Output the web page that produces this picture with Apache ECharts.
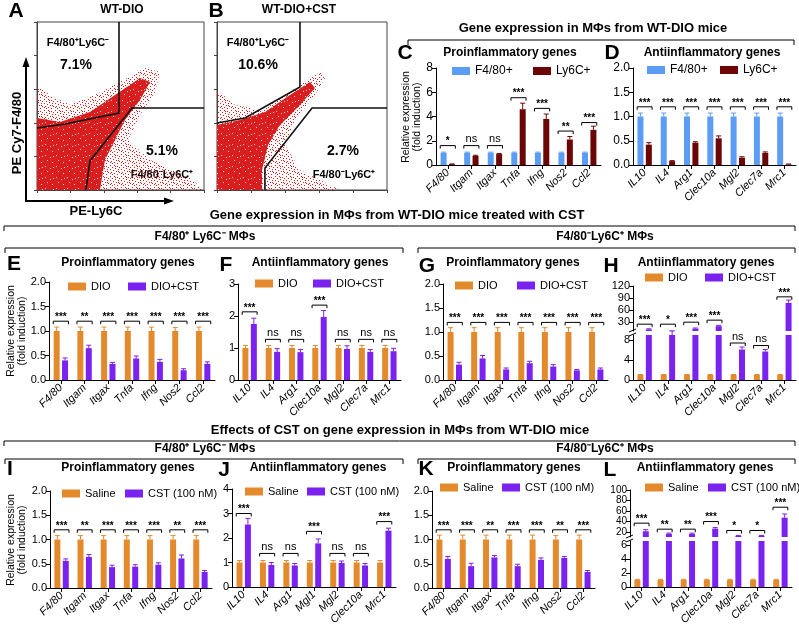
<!DOCTYPE html>
<html><head><meta charset="utf-8">
<script src="https://cdn.jsdelivr.net/npm/echarts/dist/echarts.min.js"></script>
<style>html,body{margin:0;padding:0;background:#fff}#c{width:799px;height:626px}</style>
</head><body><div id="c"></div><script>
// ---------------- DATA ----------------
const proGenes = ['F4/80','Itgam','Itgax','Tnfa','Ifng','Nos2','Ccl2'];
const antiGenes = ['IL10','IL4','Arg1','Clec10a','Mgl2','Clec7a','Mrc1'];
const antiGenesJ = ['IL10','IL4','Arg1','Mgl1','Mgl2','Clec10a','Mrc1'];

// flow cytometry (A, B): outlines of the dot cloud and gates, in axis units (0-100)
const aCloudHalo = [[0,0],[0,62.5],[7.8,56.5],[19.8,50.6],[34.7,56.5],[49.7,64.3],[64.7,72.6],[73.7,70.2],[70.7,58.3],[61.7,44.6],[54.5,29.8],[67.7,17.9],[91.6,7.1],[100,0]];
const aCloudCore = [[0,0],[0,42.9],[13.8,40.5],[31.7,46.4],[46.7,56.5],[61.7,66.7],[67.7,64.3],[61.7,53.6],[52.7,41.7],[46.7,29.8],[40.7,17.9],[37.7,0]];
const aGateUpper = [[0,36.9],[16.8,39.3],[49.1,45.8],[49.1,100]];
const aGateLower = [[100,48.8],[56.9,48.8],[31.7,17.3],[29.3,0]];
const bCloudHalo = [[0,0],[0,59.5],[10.6,50.6],[25.3,47.6],[40,56.5],[51.8,64.3],[60.6,70.2],[63.5,66.7],[57.6,56.5],[45.9,41.7],[40,26.8],[48.8,11.9],[66.5,3],[72.4,0]];
const bCloudCore = [[0,0],[0,38.7],[13.5,41.7],[28.2,46.4],[42.9,56.5],[54.7,64.3],[57.6,60.7],[48.8,50.6],[37.1,38.7],[30,26.8],[26.5,11.9],[26.5,0]];
const bGateUpper = [[0,39.9],[16.5,42.9],[48.8,61.3],[48.8,100]];
const bGateLower = [[100,48.8],[55.9,48.8],[28.2,13.1],[28.2,0]];

// C
const cF480 = [1,1,1,1,1,1,1];
const cF480Err = [0.06,0.06,0.06,0.06,0.06,0.06,0.06];
const cLy6C = [0.07,0.75,0.9,4.6,3.8,2.1,2.9];
const cLy6CErr = [0.02,0.05,0.05,0.5,0.4,0.25,0.3];
const cSig = ['*','ns','ns','***','***','**','***'];
const cSigY = [1.6,1.6,1.6,5.55,4.67,2.8,3.5];
// D
const dF480 = [1,1,1,1,1,1,1];
const dF480Err = [0.07,0.07,0.07,0.07,0.07,0.07,0.07];
const dLy6C = [0.42,0.08,0.46,0.55,0.15,0.25,0.01];
const dLy6CErr = [0.04,0.01,0.02,0.05,0.02,0.02,0.01];
const dSig = ['***','***','***','***','***','***','***'];
const dSigY = [1.2,1.2,1.2,1.2,1.2,1.2,1.2];
// E
const eDIO = [1,1,1,1,1,1,1];
const eDIOErr = [0.08,0.08,0.08,0.08,0.08,0.07,0.08];
const eCST = [0.40,0.65,0.33,0.44,0.37,0.20,0.33];
const eCSTErr = [0.05,0.06,0.03,0.05,0.05,0.03,0.04];
const eSig = ['***','**','***','***','***','***','***'];
const eSigY = [1.2,1.2,1.2,1.2,1.2,1.2,1.2];
// F
const fDIO = [1,1,1,1,1,1,1];
const fDIOErr = [0.08,0.08,0.08,0.08,0.08,0.08,0.08];
const fCST = [1.75,0.88,0.87,1.97,0.97,0.88,0.90];
const fCSTErr = [0.18,0.1,0.08,0.2,0.1,0.07,0.09];
const fSig = ['***','ns','ns','***','ns','ns','ns'];
const fSigY = [2.13,1.27,1.27,2.34,1.27,1.27,1.27];
// G
const gDIO = [1,1,1,1,1,1,1];
const gDIOErr = [0.09,0.09,0.09,0.09,0.09,0.09,0.09];
const gCST = [0.32,0.45,0.22,0.35,0.28,0.20,0.22];
const gCSTErr = [0.05,0.06,0.03,0.04,0.04,0.02,0.03];
const gSig = ['***','***','***','***','***','***','***'];
const gSigY = [1.2,1.2,1.2,1.2,1.2,1.2,1.2];
// H
const hDIO = [1,1,1,1,1,1,1];
const hDIOErr = [0.1,0.1,0.1,0.1,0.1,0.1,0.1];
const hCST = [12,9,14,20,6.1,5.7,78];
const hCSTErr = [1.5,0.8,1.5,2,0.5,0.4,7];
const hSig = ['***','*','***','***','ns','ns','***'];
const hSigY = [25,25,30,35,7.4,6.9,93];
// I
const iSaline = [1,1,1,1,1,1,1];
const iSalineErr = [0.08,0.08,0.08,0.08,0.08,0.08,0.08];
const iCST = [0.56,0.64,0.43,0.44,0.48,0.61,0.33];
const iCSTErr = [0.04,0.05,0.04,0.04,0.04,0.07,0.03];
const iSig = ['***','**','***','***','***','**','***'];
const iSigY = [1.2,1.2,1.2,1.2,1.2,1.2,1.2];
// J
const jSaline = [1,1,1,1,1,1,1];
const jSalineErr = [0.08,0.08,0.08,0.08,0.08,0.08,0.08];
const jCST = [2.55,0.9,0.88,1.78,0.98,0.88,2.3];
const jCSTErr = [0.25,0.1,0.08,0.18,0.08,0.08,0.1];
const jSig = ['***','ns','ns','***','ns','ns','***'];
const jSigY = [3.0,1.37,1.37,2.27,1.37,1.37,2.67];
// K
const kSaline = [1,1,1,1,1,1,1];
const kSalineErr = [0.09,0.09,0.09,0.09,0.09,0.08,0.09];
const kCST = [0.60,0.45,0.63,0.45,0.58,0.62,0.33];
const kCSTErr = [0.05,0.06,0.04,0.04,0.04,0.03,0.03];
const kSig = ['***','***','**','***','***','**','***'];
const kSigY = [1.2,1.2,1.2,1.2,1.2,1.2,1.2];
// L
const lSaline = [1,1,1,1,1,1,1];
const lSalineErr = [0.1,0.1,0.1,0.1,0.1,0.1,0.1];
const lCST = [21,16,16,26,12,12,47];
const lCSTErr = [3,1.5,1.5,2,1,1,7];
const lSig = ['***','**','**','***','*','*','***'];
const lSigY = [36.5,25,25,39.6,22.5,22.5,67];

// ---------------- STYLE ----------------
const FONT = '"Liberation Sans", Arial, Helvetica, sans-serif';
const BLUE = '#5b9cf4', DRED = '#6c0606', ORANGE = '#e38a2d', PURPLE = '#7a22f0';
const BW = 6, OFF = 4.2;

const grids = [], xAxes = [], yAxes = [], series = [], legends = [], graphics = [];

function addGrid(g){ grids.push(Object.assign({containLabel:false, outerBoundsMode:'none'}, g)); return grids.length-1; }
function catAxis(gi, cats, show){
  xAxes.push({type:'category', gridIndex:gi, data:cats, boundaryGap:true, show:show,
    axisLine:{show:true, lineStyle:{color:'#000', width:1}},
    axisTick:{show:true, alignWithLabel:true, length:4, lineStyle:{color:'#000'}},
    axisLabel:{show:true, rotate:45, interval:0, fontSize:11, fontStyle:'italic', color:'#000', fontFamily:FONT, margin:6},
    splitLine:{show:false}});
  return xAxes.length-1;
}
function valAxis(gi, o){
  const ax = {type:'value', gridIndex:gi, min:o.min, max:o.max,
    axisLine:{show:true, lineStyle:{color:'#000', width:1}},
    axisTick:{show:true, length:4, lineStyle:{color:'#000'}},
    axisLabel:{fontSize:o.fs||11, lineHeight:o.lh||undefined, color:'#000', fontFamily:FONT, margin:3,
      showMinLabel:true, showMaxLabel:true, hideOverlap:false},
    splitLine:{show:false}};
  if (o.interval) ax.interval = o.interval;
  if (o.fmt) ax.axisLabel.formatter = o.fmt;
  if (o.custom){ ax.axisLabel.customValues = o.custom; ax.axisTick.customValues = o.custom; }
  yAxes.push(ax); return yAxes.length-1;
}
function bars(xi, yi, name, vals, color){
  series.push({type:'bar', name, xAxisIndex:xi, yAxisIndex:yi, data:vals, barWidth:BW, barGap:'40%',
    itemStyle:{color}, silent:true, clip:true});
}
function errs(xi, yi, vals, errArr, color, off, keep){
  const data = vals.map((v,i)=>[i, v, errArr[i]]).filter(d => keep ? keep(d[1]) : true);
  series.push({type:'custom', xAxisIndex:xi, yAxisIndex:yi, data, silent:true, z:3, encode:{x:0, y:1},
    renderItem:(p, api)=>{
      const i = api.value(0), v = api.value(1), e = api.value(2);
      const a = api.coord([i, v]), b = api.coord([i, v+e]);
      const x = a[0] + off;
      return {type:'group', children:[
        {type:'line', shape:{x1:x, y1:a[1], x2:x, y2:b[1]}, style:{stroke:color, lineWidth:1}},
        {type:'line', shape:{x1:x-2.5, y1:b[1], x2:x+2.5, y2:b[1]}, style:{stroke:color, lineWidth:1}}
      ]};
    }});
}
function brackets(xi, yi, ys, labels, keep){
  const data = ys.map((y,i)=>[i, y]).filter(d => keep ? keep(d[1]) : true);
  series.push({type:'custom', xAxisIndex:xi, yAxisIndex:yi, data, silent:true, z:4, encode:{x:0, y:1},
    renderItem:(p, api)=>{
      const i = api.value(0);
      const pt = api.coord([i, api.value(1)]);
      const hw = api.size([1,0])[0]*0.32;
      const t = labels[i];
      const ns = t === 'ns';
      return {type:'group', children:[
        {type:'polyline', shape:{points:[[pt[0]-hw, pt[1]+3],[pt[0]-hw, pt[1]],[pt[0]+hw, pt[1]],[pt[0]+hw, pt[1]+3]]},
          style:{stroke:'#000', lineWidth:1, fill:null}},
        {type:'text', x:pt[0], y:ns ? pt[1]-1 : pt[1]+1,
          style:{text:t, font:(ns ? '11px ' : 'bold 10px ') + FONT, fill:'#000',
            align:'center', verticalAlign:'bottom', textAlign:'center', textVerticalAlign:'bottom'}}
      ]};
    }});
}
function leg(name, left, cy, fs){
  legends.push({data:[name], left, top:cy-7, padding:0, itemWidth:18, itemHeight:8, itemGap:0,
    selectedMode:false, icon:'rect',
    textStyle:{fontSize:fs||11, color:'#000', fontFamily:FONT}});
}
function txt(x, y, t, font, extra){
  graphics.push(Object.assign({type:'text', x, y, silent:true,
    style:{text:t, font:font, fill:'#000', align:'center', verticalAlign:'middle', textAlign:'center', textVerticalAlign:'middle'}}, extra||{}));
}
function hline(x1, x2, y){
  graphics.push({type:'polyline', silent:true, shape:{points:[[x1,y+5],[x1,y],[x2,y],[x2,y+5]]},
    style:{stroke:'#000', lineWidth:1, fill:null}});
}
function line(x1,y1,x2,y2,w){
  graphics.push({type:'line', silent:true, shape:{x1,y1,x2,y2}, style:{stroke:'#000', lineWidth:w||1}});
}

function panel(g, cats, yo, s1, s2, sigY, sig){
  const gi = addGrid(g);
  const xi = catAxis(gi, cats, true);
  const yi = valAxis(gi, yo);
  bars(xi, yi, s1.name, s1.v, s1.c);
  bars(xi, yi, s2.name, s2.v, s2.c);
  errs(xi, yi, s1.v, s1.e, s1.c, -OFF);
  errs(xi, yi, s2.v, s2.e, s2.c, OFF);
  brackets(xi, yi, sigY, sig);
}
function brokenPanel(gUp, gLo, cats, yUp, yLo, s1, s2, sigY, sig){
  const giU = addGrid(gUp), giL = addGrid(gLo);
  const xU = catAxis(giU, cats, false), xL = catAxis(giL, cats, true);
  const yU = valAxis(giU, yUp), yL = valAxis(giL, yLo);
  const lim = yLo.max;
  [[xU,yU],[xL,yL]].forEach(([xi,yi])=>{ bars(xi, yi, s1.name, s1.v, s1.c); bars(xi, yi, s2.name, s2.v, s2.c); });
  errs(xL, yL, s1.v, s1.e, s1.c, -OFF, v=>v<=lim);
  errs(xU, yU, s2.v, s2.e, s2.c, OFF, v=>v>lim);
  errs(xL, yL, s2.v, s2.e, s2.c, OFF, v=>v<=lim);
  brackets(xU, yU, sigY, sig, v=>v>lim);
  brackets(xL, yL, sigY, sig, v=>v<=lim);
  const x = gUp.left, y1 = gUp.top + gUp.height, y2 = gLo.top;
  line(x-4, y1+1, x+3, y1-2, 1);
  line(x-4, y2+1, x+3, y2-2, 1);
}

function makePattern(bg, fg, pts, size){
  const c = document.createElement('canvas'); c.width = c.height = size;
  const x = c.getContext('2d');
  if (bg){ x.fillStyle = bg; x.fillRect(0,0,size,size); }
  x.fillStyle = fg; pts.forEach(p=>x.fillRect(p[0], p[1], 1, 1));
  return c;
}
const haloPat = makePattern(null, '#d81e1e',
  [[0,0],[4,0],[7,1],[2,2],[9,2],[5,3],[0,4],[8,4],[3,5],[6,6],[1,7],[9,7],[4,8],[7,9],[2,9],[5,1],[8,6],[0,8]], 11);
const corePat = makePattern('#d81e1e', '#f7d6d6', [[1,1],[6,3],[3,6],[8,8],[9,2]], 11);

function flowPanel(g, halo, core, gU, gL){
  const gi = addGrid(Object.assign({show:true, borderColor:'#444', borderWidth:1, backgroundColor:'#fff'}, g));
  xAxes.push({type:'value', gridIndex:gi, min:0, max:100, interval:20, axisLabel:{show:false},
    axisTick:{show:true, length:3, lineStyle:{color:'#444'}}, axisLine:{show:true, lineStyle:{color:'#444'}}, splitLine:{show:false}});
  yAxes.push({type:'value', gridIndex:gi, min:0, max:100, interval:20, axisLabel:{show:false},
    axisTick:{show:true, length:3, lineStyle:{color:'#444'}}, axisLine:{show:true, lineStyle:{color:'#444'}}, splitLine:{show:false}});
  const xi = xAxes.length-1, yi = yAxes.length-1;
  const poly = (pts, style, z) => series.push({type:'custom', xAxisIndex:xi, yAxisIndex:yi, data:[[0,0]], silent:true, z,
    renderItem:(p, api)=>({type:'polygon', shape:{points:pts.map(q=>api.coord(q))}, style})});
  const pl = (pts, z) => series.push({type:'custom', xAxisIndex:xi, yAxisIndex:yi, data:[[0,0]], silent:true, z,
    renderItem:(p, api)=>({type:'polyline', shape:{points:pts.map(q=>api.coord(q))}, style:{stroke:'#111', lineWidth:1.6, fill:null}})});
  poly(halo, {fill:{image:haloPat, repeat:'repeat'}}, 1);
  poly(core, {fill:{image:corePat, repeat:'repeat'}}, 2);
  pl(gU, 5); pl(gL, 5);
}

flowPanel({left:37, top:22, width:167, height:168}, aCloudHalo, aCloudCore, aGateUpper, aGateLower);
flowPanel({left:217, top:22, width:170, height:168}, bCloudHalo, bCloudCore, bGateUpper, bGateLower);

panel({left:436, top:68, width:165, height:97}, proGenes, {min:0, max:8, interval:2, fs:12},
  {name:'F4/80+', v:cF480, e:cF480Err, c:BLUE}, {name:'Ly6C+', v:cLy6C, e:cLy6CErr, c:DRED}, cSigY, cSig);
panel({left:633, top:68, width:163, height:97}, antiGenes, {min:0, max:2, interval:0.5, fs:12, fmt:v=>v.toFixed(1)},
  {name:'F4/80+', v:dF480, e:dF480Err, c:BLUE}, {name:'Ly6C+', v:dLy6C, e:dLy6CErr, c:DRED}, dSigY, dSig);
panel({left:49, top:282, width:166, height:98}, proGenes, {min:0, max:2, interval:0.5, fmt:v=>v.toFixed(1)},
  {name:'DIO', v:eDIO, e:eDIOErr, c:ORANGE}, {name:'DIO+CST', v:eCST, e:eCSTErr, c:PURPLE}, eSigY, eSig);
panel({left:238, top:284, width:163, height:96}, antiGenes, {min:0, max:3, interval:1},
  {name:'DIO', v:fDIO, e:fDIOErr, c:ORANGE}, {name:'DIO+CST', v:fCST, e:fCSTErr, c:PURPLE}, fSigY, fSig);
panel({left:443, top:284, width:165, height:96}, proGenes, {min:0, max:2, interval:0.5, fmt:v=>v.toFixed(1)},
  {name:'DIO', v:gDIO, e:gDIOErr, c:ORANGE}, {name:'DIO+CST', v:gCST, e:gCSTErr, c:PURPLE}, gSigY, gSig);
brokenPanel({left:633, top:286, width:163, height:45}, {left:633, top:335, width:163, height:45}, antiGenes,
  {min:8, max:120, custom:[30,60,90,120], fs:11, lh:10}, {min:0, max:9, custom:[0,2,4,6,8], fs:11, lh:9},
  {name:'DIO', v:hDIO, e:hDIOErr, c:ORANGE}, {name:'DIO+CST', v:hCST, e:hCSTErr, c:PURPLE}, hSigY, hSig);
panel({left:50, top:491, width:162, height:97}, proGenes, {min:0, max:2, interval:0.5, fmt:v=>v.toFixed(1)},
  {name:'Saline', v:iSaline, e:iSalineErr, c:ORANGE}, {name:'CST (100 nM)', v:iCST, e:iCSTErr, c:PURPLE}, iSigY, iSig);
panel({left:232, top:489, width:164, height:98}, antiGenesJ, {min:0, max:4, interval:1},
  {name:'Saline', v:jSaline, e:jSalineErr, c:ORANGE}, {name:'CST (100 nM)', v:jCST, e:jCSTErr, c:PURPLE}, jSigY, jSig);
panel({left:432, top:491, width:163, height:97}, proGenes, {min:0, max:2, interval:0.5, fmt:v=>v.toFixed(1)},
  {name:'Saline', v:kSaline, e:kSalineErr, c:ORANGE}, {name:'CST (100 nM)', v:kCST, e:kCSTErr, c:PURPLE}, kSigY, kSig);
brokenPanel({left:630, top:490, width:162, height:47}, {left:630, top:541, width:162, height:46}, antiGenes,
  {min:10, max:100, custom:[20,40,60,80,100], fs:10, lh:8}, {min:0, max:6.6, custom:[0,2,4,6], fs:11},
  {name:'Saline', v:lSaline, e:lSalineErr, c:ORANGE}, {name:'CST (100 nM)', v:lCST, e:lCSTErr, c:PURPLE}, lSigY, lSig);

leg('F4/80+', 452, 72, 12); leg('Ly6C+', 533, 72, 12);
leg('F4/80+', 647, 71, 12); leg('Ly6C+', 720, 71, 12);
leg('DIO', 68, 288); leg('DIO+CST', 128, 288);
leg('DIO', 255, 285); leg('DIO+CST', 313, 285);
leg('DIO', 455, 287); leg('DIO+CST', 517, 287);
leg('DIO', 645, 279); leg('DIO+CST', 705, 279);
leg('Saline', 62, 495); leg('CST (100 nM)', 125, 495);
leg('Saline', 245, 493); leg('CST (100 nM)', 307, 493);
leg('Saline', 440, 489); leg('CST (100 nM)', 502, 489);
leg('Saline', 645, 489); leg('CST (100 nM)', 708, 489);

const B13 = 'bold 13px ' + FONT, B12 = 'bold 12px ' + FONT, B11 = 'bold 11px ' + FONT, BIG = 'bold 21px ' + FONT;
[['A',16,11],['B',216,11],['C',405,53],['D',612,53],['E',14,264],['F',226,265],['G',427,266],['H',611,266],
 ['I',10,469],['J',224,470],['K',426,469],['L',610,470]].forEach(d=>txt(d[1], d[2], d[0], BIG));
txt(122, 10, 'WT-DIO', B12); txt(299, 10, 'WT-DIO+CST', B12);
txt(78, 43, 'F4/80\u207ALy6C\u207B', B11); txt(76, 65, '7.1%', 'bold 14px ' + FONT);
txt(162, 151, '5.1%', 'bold 14px ' + FONT); txt(162, 175, 'F4/80\u207BLy6C\u207A', B11);
txt(258, 43, 'F4/80\u207ALy6C\u207B', B11); txt(258, 65, '10.6%', 'bold 14px ' + FONT);
txt(343, 151, '2.7%', 'bold 14px ' + FONT); txt(344, 175, 'F4/80\u207BLy6C\u207A', B11);
txt(17, 133, 'PE Cy7-F4/80', B13, {rotation:Math.PI/2});
txt(96, 211, 'PE-Ly6C', B13);
line(26, 201, 26, 66, 2); line(25, 201, 166, 201, 2);
graphics.push({type:'polygon', silent:true, shape:{points:[[26,57],[22.5,67],[29.5,67]]}, style:{fill:'#000'}});
graphics.push({type:'polygon', silent:true, shape:{points:[[174,201],[164,197.5],[164,204.5]]}, style:{fill:'#000'}});
txt(593, 28, 'Gene expression in M\u03A6s from WT-DIO mice', B13); hline(408, 794, 40);
txt(397, 215, 'Gene expression in M\u03A6s from WT-DIO mice treated with CST', B13); hline(4, 795, 226);
txt(205, 237, 'F4/80\u207A Ly6C\u207B M\u03A6s', B12); hline(5, 403, 248);
txt(605, 237, 'F4/80\u207BLy6C\u207A M\u03A6s', B12); hline(418, 795, 248);
txt(400, 430, 'Effects of CST on gene expression in M\u03A6s from WT-DIO mice', B13); hline(4, 795, 441);
txt(205, 449, 'F4/80\u207A Ly6C\u207B M\u03A6s', B12); hline(5, 403, 459);
txt(605, 449, 'F4/80\u207BLy6C\u207A M\u03A6s', B12); hline(418, 795, 459);
txt(510, 53, 'Proinflammatory genes', B12); txt(712, 53, 'Antiinflammatory genes', B12);
txt(128, 263, 'Proinflammatory genes', B12); txt(320, 263, 'Antiinflammatory genes', B12);
txt(513, 263, 'Proinflammatory genes', B12); txt(706, 263, 'Antiinflammatory genes', B12);
txt(128, 468, 'Proinflammatory genes', B12); txt(318, 468, 'Antiinflammatory genes', B12);
txt(514, 468, 'Proinflammatory genes', B12); txt(705, 468, 'Antiinflammatory genes', B12);
const YN = 'Relative expression\n(fold induction)';
txt(412, 117, YN, '10.5px ' + FONT, {rotation:Math.PI/2});
txt(17, 331, YN, '10.5px ' + FONT, {rotation:Math.PI/2});
txt(17, 540, YN, '10.5px ' + FONT, {rotation:Math.PI/2});

const chart = echarts.init(document.getElementById('c'), null, {renderer:'canvas'});
chart.setOption({animation:false, backgroundColor:'#fff', textStyle:{fontFamily:FONT},
  grid:grids, xAxis:xAxes, yAxis:yAxes, series, legend:legends, graphic:{elements:graphics}});
</script></body></html>
